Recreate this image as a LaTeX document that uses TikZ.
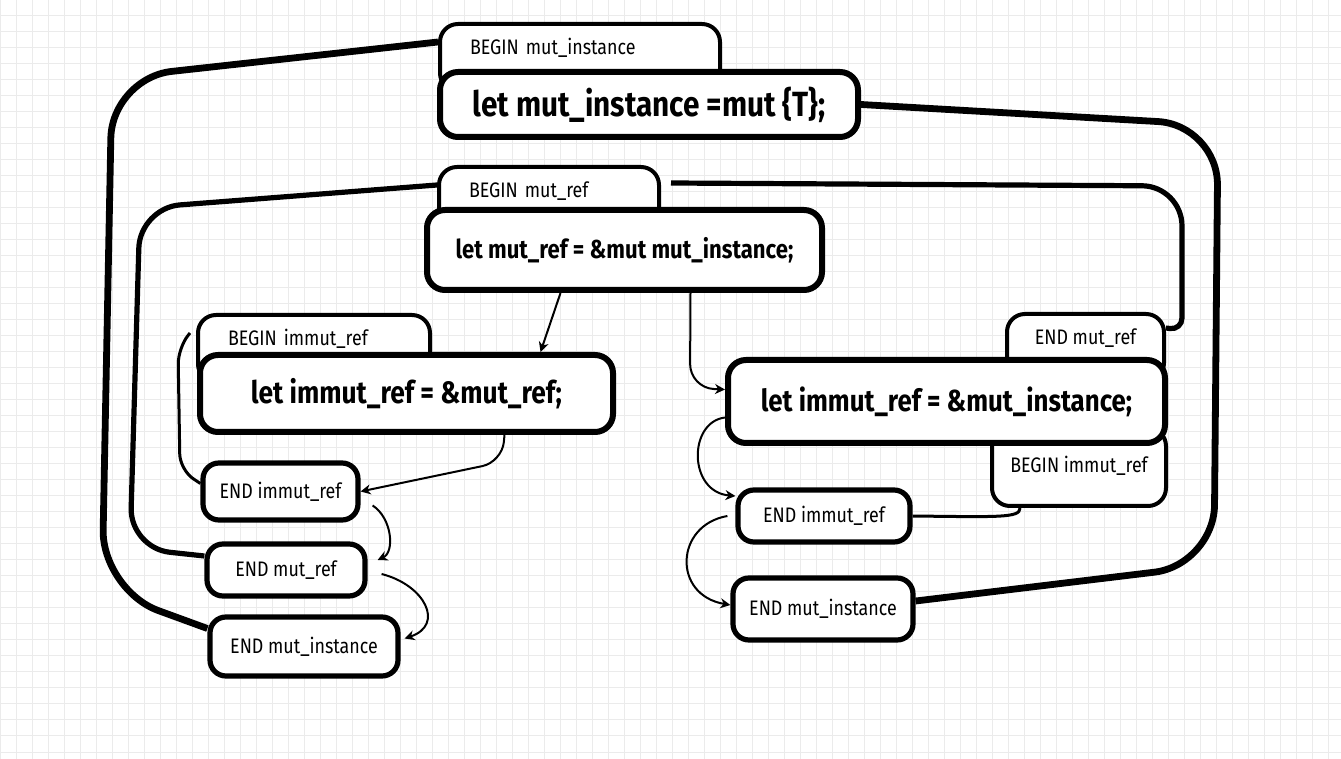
\documentclass[tikz,border=0pt]{standalone}
\usepackage{fontspec}
\usepackage{tikz}
\usetikzlibrary{arrows.meta}
\newfontfamily\labelfont{Fira Sans}[FakeStretch=0.85]
\newfontfamily\codefont{Fira Sans}[FakeStretch=0.85]
\definecolor{gridgray}{HTML}{EBEBEB}

\begin{document}
\begin{tikzpicture}[x=0.5pt,y=-0.5pt,
  gridline/.style={gridgray,line width=0.5pt},
  box/.style={draw,line width=3pt,rounded corners=9pt,fill=white,inner sep=0pt,font=\codefont\bfseries},
  endbox/.style={draw,line width=2.6pt,rounded corners=8pt,fill=white,inner sep=0pt,font=\labelfont\fontsize{10.5}{12}\selectfont},
  tab/.style={draw,line width=2pt,rounded corners=9pt,fill=white,anchor=north west,align=left,
    inner xsep=15pt,inner ysep=8pt,text height=7.5pt,text depth=10pt,font=\labelfont\fontsize{10.5}{12}\selectfont},
  sidetab/.style={tab,inner xsep=6pt},
  tabdown/.style={sidetab,anchor=south west,text height=14.5pt,text depth=8.5pt},
  heavy/.style={line width=3.4pt,rounded corners=30pt},
  medium/.style={line width=2.6pt,rounded corners=20pt},
  light/.style={line width=1.5pt,rounded corners=8pt},
  arr/.style={line width=1pt,-{Stealth[length=5pt,width=5pt]}}]
\useasboundingbox (0,0) rectangle (1341,759);
\fill[white] (0,0) rectangle (1341,759);
\foreach \gx in {0,16,...,1340} \draw[gridline] (\gx,0) -- (\gx,759);
\foreach \gy in {0,16,...,752} \draw[gridline] (0,\gy) -- (1341,\gy);

\node[tab,text width=110pt] (binst) at (438,22) {BEGIN mut\_instance};
\node[box,minimum width=209pt,minimum height=32.5pt,font=\codefont\bfseries\fontsize{17.5}{20}\selectfont] (linst) at (649,104.5) {let mut\_instance =mut \{T\};};

\node[tab,text width=80pt] (bmref) at (437,165) {BEGIN mut\_ref};
\node[box,minimum width=197.5pt,minimum height=40pt,font=\codefont\bfseries\fontsize{13}{15}\selectfont] (lmref) at (624.5,250) {let mut\_ref = \&mut mut\_instance;};

\node[tab,text width=86pt] (bimm) at (196,313) {BEGIN immut\_ref};
\node[box,minimum width=206.5pt,minimum height=38.5pt,font=\codefont\bfseries\fontsize{15.5}{18}\selectfont] (limm) at (406.5,393.5) {let immut\_ref = \&mut\_ref;};

\node[endbox,minimum width=77.5pt,minimum height=28.5pt] (eimm) at (280.5,491.5) {END immut\_ref};
\node[endbox,minimum width=79pt,minimum height=26pt] (emref) at (286,570) {END mut\_ref};
\node[endbox,minimum width=94pt,minimum height=29.5pt] (einst) at (304,646.5) {END mut\_instance};

\node[sidetab,minimum width=78.5pt] (emrefR) at (1005,312) {END mut\_ref};
\node[tabdown,minimum width=87pt] (bimmR) at (990,508) {BEGIN immut\_ref};
\node[box,minimum width=218.5pt,minimum height=41.5pt,font=\codefont\bfseries\fontsize{15.2}{18}\selectfont] (limmR) at (946.5,401.5) {let immut\_ref = \&mut\_instance;};

\node[endbox,minimum width=86pt,minimum height=26pt] (eimmR) at (824,516) {END immut\_ref};
\node[endbox,minimum width=90pt,minimum height=31pt] (einstR) at (823,609) {END mut\_instance};

\draw[heavy] ([yshift=-10pt]binst.north west) -- (112,78) -- (102,590) -- ([yshift=9pt]einst.west);
\draw[heavy] (linst.east) -- (1218,125) -- (1214,565) -- ([yshift=4pt]einstR.east);
\draw[medium] ([yshift=-10pt]bmref.north west) -- (140,208) -- (130,548) -- ([yshift=7pt]emref.west);
\draw[medium] ([xshift=5pt,yshift=-9pt]bmref.north east) -- (1182,186) [rounded corners=6pt] -- (1182,330) -- ([yshift=-8pt]emrefR.north east);
\draw[light] ([xshift=-3pt,yshift=-10pt]bimm.north west) -- (178,348) -- (180,470) -- ([yshift=4pt]eimm.west);
\draw[light] ([xshift=15pt]bimmR.south west) .. controls (1020,518) and (1000,517) .. (eimmR.east);

\draw[arr] ([xshift=-32pt]lmref.south) -- ([xshift=67pt]limm.north);
\draw[arr,rounded corners=12pt] ([xshift=33pt]lmref.south) -- (690,388) -- ([yshift=6pt]limmR.west);
\draw[arr,rounded corners=10pt] ([xshift=49pt]limm.south) -- (502,462) -- (eimm.east);
\draw[arr] ([xshift=6pt,yshift=-7pt]eimm.east) .. controls (392,518) and (395,552) .. ([xshift=5pt,yshift=5pt]emref.east);
\draw[arr] ([xshift=7pt,yshift=-2pt]emref.east) .. controls (425,585) and (445,625) .. ([xshift=2pt,yshift=4pt]einst.east);
\draw[arr] ([yshift=-8pt]limmR.west) .. controls (688,422) and (688,492) .. ([yshift=10pt]eimmR.west);
\draw[arr] ([xshift=-4pt]eimmR.west) .. controls (675,525) and (672,595) .. ([yshift=2pt]einstR.west);
\end{tikzpicture}
\end{document}
